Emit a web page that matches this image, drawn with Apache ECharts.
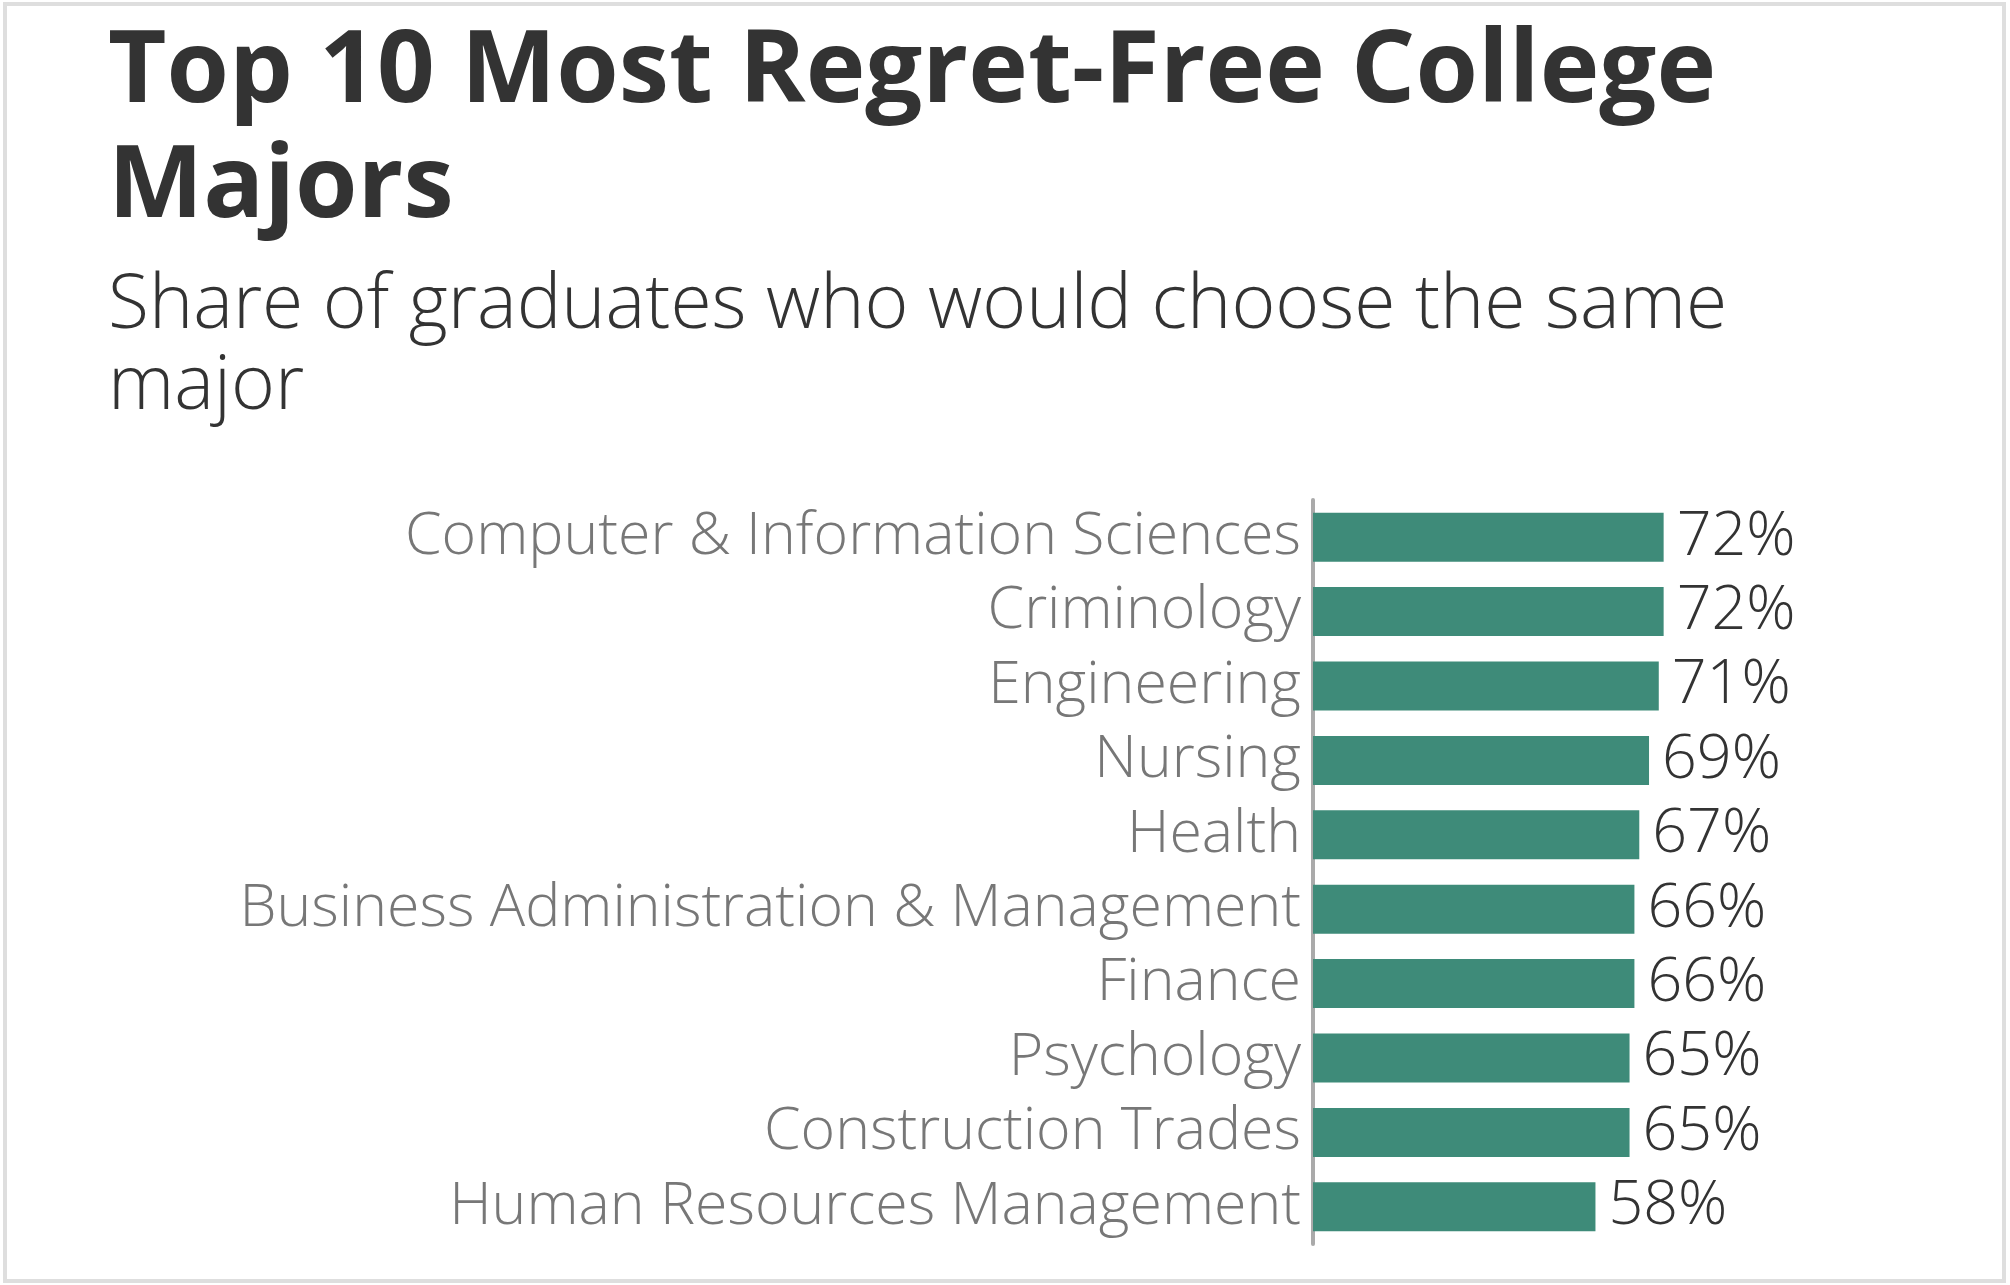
<!DOCTYPE html>
<html>
<head>
<meta charset="utf-8">
<script src="https://cdn.jsdelivr.net/npm/echarts@6/dist/echarts.min.js"></script>
<style>
  html, body { margin: 0; padding: 0; background: #fff; }
  #container { width: 2010px; height: 1285px; }
</style>
</head>
<body>
<div id="container"></div>
<script>
var majors = [
    'Computer & Information Sciences',
    'Criminology',
    'Engineering',
    'Nursing',
    'Health',
    'Business Administration & Management',
    'Finance',
    'Psychology',
    'Construction Trades',
    'Human Resources Management'
];
var shares = [72, 72, 71, 69, 67, 66, 66, 65, 65, 58];

var FONT = '"Open Sans", "Noto Sans", sans-serif';

var myChart = echarts.init(document.getElementById('container'));

var option = {
    backgroundColor: '#fff',
    animation: false,
    title: [
        {
            text: 'Top 10 Most Regret-Free College\nMajors',
            left: 103,
            top: 11,
            textStyle: {
                fontFamily: FONT,
                fontWeight: 'bold',
                fontSize: 101,
                lineHeight: 115,
                color: '#333'
            }
        },
        {
            text: 'Share of graduates who would choose the same\nmajor',
            left: 103,
            top: 261,
            textStyle: {
                fontFamily: FONT,
                fontWeight: 300,
                fontSize: 75,
                lineHeight: 81,
                color: '#333'
            }
        }
    ],
    graphic: [
        {
            type: 'rect',
            shape: { x: 5, y: 4, width: 1999, height: 1277 },
            style: { fill: 'none', stroke: '#dedede', lineWidth: 4 }
        }
    ],
    grid: {
        left: 1313,
        right: 210,
        top: 500,
        height: 744
    },
    xAxis: {
        type: 'value',
        min: 0,
        max: 100,
        show: false
    },
    yAxis: {
        type: 'category',
        data: majors,
        inverse: true,
        axisLine: { show: true, lineStyle: { color: '#aaaaaa', width: 4 } },
        axisTick: { show: false },
        splitLine: { show: false },
        axisLabel: {
            interval: 0,
            hideOverlap: false,
            margin: 12,
            fontFamily: FONT,
            fontWeight: 300,
            fontSize: 59,
            color: '#777'
        }
    },
    series: [
        {
            type: 'bar',
            data: shares,
            barWidth: 49,
            itemStyle: { color: '#3e8b79' },
            label: {
                show: true,
                position: 'right',
                distance: 13,
                formatter: '{c}%',
                fontFamily: FONT,
                fontWeight: 300,
                fontSize: 61,
                color: '#333'
            }
        }
    ]
};

myChart.setOption(option);
</script>
</body>
</html>
